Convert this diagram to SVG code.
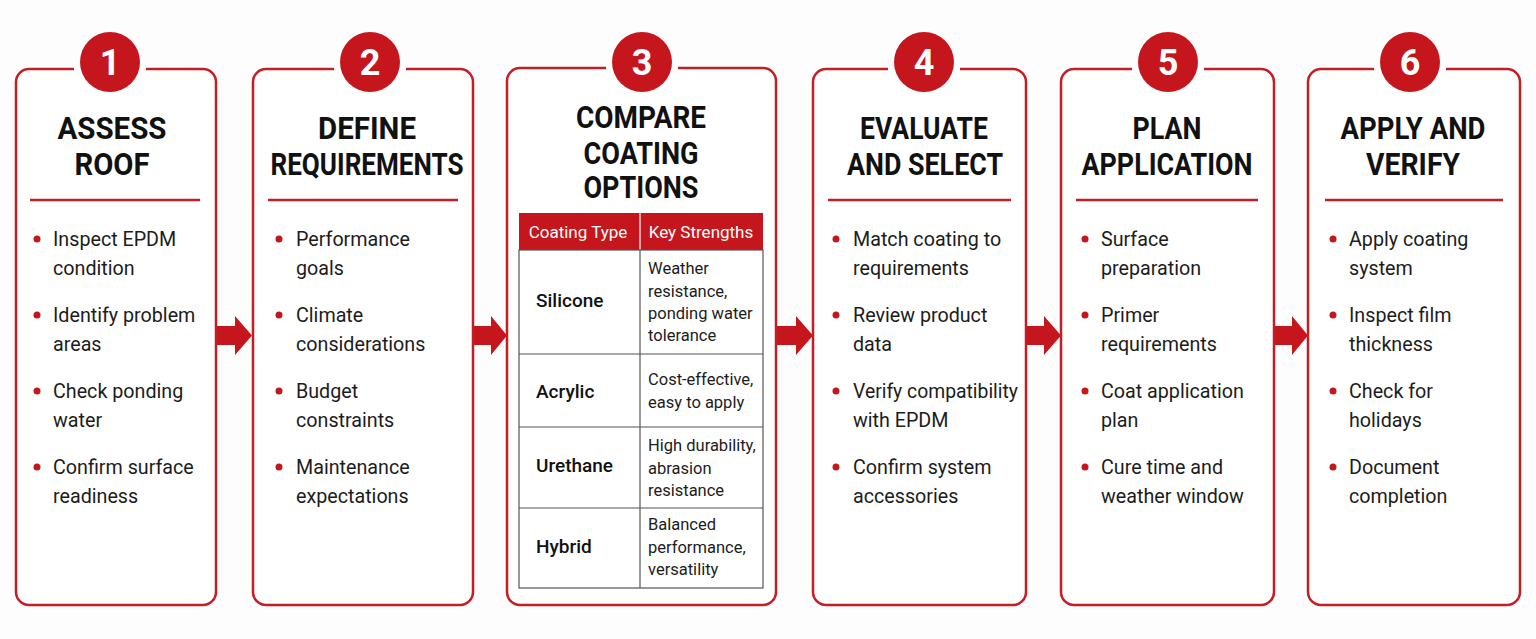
<svg xmlns="http://www.w3.org/2000/svg" width="1536" height="639" viewBox="0 0 1536 639">
<style>
.box{fill:#fff;stroke:#c41e24;stroke-width:2.5}
.num{fill:#c4161c}
.numt{fill:#fff;font-family:Roboto,"Liberation Sans",sans-serif;font-weight:700;font-size:36px;text-anchor:middle}
.title{fill:#111;font-family:Roboto,"Liberation Sans",sans-serif;font-weight:700;font-size:31px;text-anchor:middle}
.div{stroke:#c41e24;stroke-width:2.5}
.dot{fill:#c4161c}
.bt{fill:#1c1c1c;font-family:Roboto,"Liberation Sans",sans-serif;font-size:19.7px}
.arrow{fill:#c4161c}
.th{fill:#fff;font-family:Roboto,"Liberation Sans",sans-serif;font-size:17px;text-anchor:middle}
.rl{fill:#111;font-family:Roboto,"Liberation Sans",sans-serif;font-weight:500;font-size:19px}
.rs{fill:#1c1c1c;font-family:Roboto,"Liberation Sans",sans-serif;font-size:16.5px}
.grid{stroke:#555;stroke-width:1.2;fill:none}
</style>
<rect width="1536" height="639" fill="#fdfdfd"/>

<g id="connectors">
<polygon class="arrow" points="217,326 235,326 235,316 252,335.5 235,355 235,345 217,345"/>
<polygon class="arrow" points="474,326 491,326 491,316 507,335.5 491,355 491,345 474,345"/>
<polygon class="arrow" points="777,326 796,326 796,316 813,335.5 796,355 796,345 777,345"/>
<polygon class="arrow" points="1027,326 1044,326 1044,316 1061,335.5 1044,355 1044,345 1027,345"/>
<polygon class="arrow" points="1275,326 1292,326 1292,316 1308,335.5 1292,355 1292,345 1275,345"/>
</g>

<g id="step1">
<rect class="box" x="16" y="69" width="200" height="536" rx="13"/>
<rect x="74" y="60" width="72" height="14" fill="#fdfdfd"/>
<circle class="num" cx="110" cy="62" r="30"/>
<text class="numt" x="110" y="75">1</text>
<text class="title" x="112" y="139" textLength="109" lengthAdjust="spacingAndGlyphs">ASSESS</text>
<text class="title" x="112" y="175" textLength="75" lengthAdjust="spacingAndGlyphs">ROOF</text>
<line class="div" x1="30" y1="200" x2="200" y2="200"/>
<circle class="dot" cx="37" cy="239" r="3.5"/>
<text class="bt" x="53" y="246">Inspect EPDM</text>
<text class="bt" x="53" y="275">condition</text>
<circle class="dot" cx="37" cy="315" r="3.5"/>
<text class="bt" x="53" y="322">Identify problem</text>
<text class="bt" x="53" y="351">areas</text>
<circle class="dot" cx="37" cy="391" r="3.5"/>
<text class="bt" x="53" y="398">Check ponding</text>
<text class="bt" x="53" y="427">water</text>
<circle class="dot" cx="37" cy="467" r="3.5"/>
<text class="bt" x="53" y="474">Confirm surface</text>
<text class="bt" x="53" y="503">readiness</text>
</g>

<g id="step2">
<rect class="box" x="253" y="69" width="220" height="536" rx="13"/>
<rect x="334" y="60" width="72" height="14" fill="#fdfdfd"/>
<circle class="num" cx="370" cy="62" r="30"/>
<text class="numt" x="370" y="75">2</text>
<text class="title" x="367" y="139" textLength="98" lengthAdjust="spacingAndGlyphs">DEFINE</text>
<text class="title" x="367" y="175" textLength="193" lengthAdjust="spacingAndGlyphs">REQUIREMENTS</text>
<line class="div" x1="268" y1="200" x2="458" y2="200"/>
<circle class="dot" cx="279" cy="239" r="3.5"/>
<text class="bt" x="296" y="246">Performance</text>
<text class="bt" x="296" y="275">goals</text>
<circle class="dot" cx="279" cy="315" r="3.5"/>
<text class="bt" x="296" y="322">Climate</text>
<text class="bt" x="296" y="351">considerations</text>
<circle class="dot" cx="279" cy="391" r="3.5"/>
<text class="bt" x="296" y="398">Budget</text>
<text class="bt" x="296" y="427">constraints</text>
<circle class="dot" cx="279" cy="467" r="3.5"/>
<text class="bt" x="296" y="474">Maintenance</text>
<text class="bt" x="296" y="503">expectations</text>
</g>

<g id="step3">
<rect class="box" x="507" y="68" width="269" height="537" rx="13"/>
<rect x="606" y="60" width="72" height="14" fill="#fdfdfd"/>
<circle class="num" cx="642" cy="62" r="30"/>
<text class="numt" x="642" y="75">3</text>
<text class="title" x="641" y="128" textLength="130" lengthAdjust="spacingAndGlyphs">COMPARE</text>
<text class="title" x="641" y="164" textLength="115" lengthAdjust="spacingAndGlyphs">COATING</text>
<text class="title" x="641" y="198" textLength="115" lengthAdjust="spacingAndGlyphs">OPTIONS</text>
<rect x="519" y="213" width="244" height="37" fill="#c4161c"/>
<line x1="640" y1="213" x2="640" y2="250" stroke="#fff" stroke-width="1.2"/>
<text class="th" x="578" y="238">Coating Type</text>
<text class="th" x="701" y="238">Key Strengths</text>
<rect class="grid" x="519" y="250" width="244" height="338"/>
<line class="grid" x1="640" y1="250" x2="640" y2="588"/>
<line class="grid" x1="519" y1="354" x2="763" y2="354"/>
<line class="grid" x1="519" y1="427" x2="763" y2="427"/>
<line class="grid" x1="519" y1="508" x2="763" y2="508"/>
<text class="rl" x="536" y="307">Silicone</text>
<text class="rs" x="648" y="274">Weather</text>
<text class="rs" x="648" y="297">resistance,</text>
<text class="rs" x="648" y="319">ponding water</text>
<text class="rs" x="648" y="341">tolerance</text>
<text class="rl" x="536" y="398">Acrylic</text>
<text class="rs" x="648" y="385">Cost-effective,</text>
<text class="rs" x="648" y="408">easy to apply</text>
<text class="rl" x="536" y="472">Urethane</text>
<text class="rs" x="648" y="451">High durability,</text>
<text class="rs" x="648" y="474">abrasion</text>
<text class="rs" x="648" y="496">resistance</text>
<text class="rl" x="536" y="553">Hybrid</text>
<text class="rs" x="648" y="530">Balanced</text>
<text class="rs" x="648" y="553">performance,</text>
<text class="rs" x="648" y="575">versatility</text>
</g>

<g id="step4">
<rect class="box" x="813" y="69" width="213" height="536" rx="13"/>
<rect x="888" y="60" width="72" height="14" fill="#fdfdfd"/>
<circle class="num" cx="924" cy="62" r="30"/>
<text class="numt" x="924" y="75">4</text>
<text class="title" x="924" y="139" textLength="128" lengthAdjust="spacingAndGlyphs">EVALUATE</text>
<text class="title" x="925" y="175" textLength="156" lengthAdjust="spacingAndGlyphs">AND SELECT</text>
<line class="div" x1="828" y1="200" x2="1011" y2="200"/>
<circle class="dot" cx="836" cy="239" r="3.5"/>
<text class="bt" x="853" y="246">Match coating to</text>
<text class="bt" x="853" y="275">requirements</text>
<circle class="dot" cx="836" cy="315" r="3.5"/>
<text class="bt" x="853" y="322">Review product</text>
<text class="bt" x="853" y="351">data</text>
<circle class="dot" cx="836" cy="391" r="3.5"/>
<text class="bt" x="853" y="398" textLength="165" lengthAdjust="spacingAndGlyphs">Verify compatibility</text>
<text class="bt" x="853" y="427">with EPDM</text>
<circle class="dot" cx="836" cy="467" r="3.5"/>
<text class="bt" x="853" y="474">Confirm system</text>
<text class="bt" x="853" y="503">accessories</text>
</g>

<g id="step5">
<rect class="box" x="1061" y="69" width="213" height="536" rx="13"/>
<rect x="1132" y="60" width="72" height="14" fill="#fdfdfd"/>
<circle class="num" cx="1168" cy="62" r="30"/>
<text class="numt" x="1168" y="75">5</text>
<text class="title" x="1167" y="139" textLength="69" lengthAdjust="spacingAndGlyphs">PLAN</text>
<text class="title" x="1167" y="175" textLength="171" lengthAdjust="spacingAndGlyphs">APPLICATION</text>
<line class="div" x1="1076" y1="200" x2="1258" y2="200"/>
<circle class="dot" cx="1085" cy="239" r="3.5"/>
<text class="bt" x="1101" y="246">Surface</text>
<text class="bt" x="1101" y="275">preparation</text>
<circle class="dot" cx="1085" cy="315" r="3.5"/>
<text class="bt" x="1101" y="322">Primer</text>
<text class="bt" x="1101" y="351">requirements</text>
<circle class="dot" cx="1085" cy="391" r="3.5"/>
<text class="bt" x="1101" y="398">Coat application</text>
<text class="bt" x="1101" y="427">plan</text>
<circle class="dot" cx="1085" cy="467" r="3.5"/>
<text class="bt" x="1101" y="474">Cure time and</text>
<text class="bt" x="1101" y="503">weather window</text>
</g>

<g id="step6">
<rect class="box" x="1308" y="69" width="212" height="536" rx="13"/>
<rect x="1374" y="60" width="72" height="14" fill="#fdfdfd"/>
<circle class="num" cx="1410" cy="62" r="30"/>
<text class="numt" x="1410" y="75">6</text>
<text class="title" x="1413" y="139" textLength="145" lengthAdjust="spacingAndGlyphs">APPLY AND</text>
<text class="title" x="1413" y="175" textLength="94" lengthAdjust="spacingAndGlyphs">VERIFY</text>
<line class="div" x1="1325" y1="200" x2="1503" y2="200"/>
<circle class="dot" cx="1333" cy="239" r="3.5"/>
<text class="bt" x="1349" y="246">Apply coating</text>
<text class="bt" x="1349" y="275">system</text>
<circle class="dot" cx="1333" cy="315" r="3.5"/>
<text class="bt" x="1349" y="322">Inspect film</text>
<text class="bt" x="1349" y="351">thickness</text>
<circle class="dot" cx="1333" cy="391" r="3.5"/>
<text class="bt" x="1349" y="398">Check for</text>
<text class="bt" x="1349" y="427">holidays</text>
<circle class="dot" cx="1333" cy="467" r="3.5"/>
<text class="bt" x="1349" y="474">Document</text>
<text class="bt" x="1349" y="503">completion</text>
</g>
</svg>
